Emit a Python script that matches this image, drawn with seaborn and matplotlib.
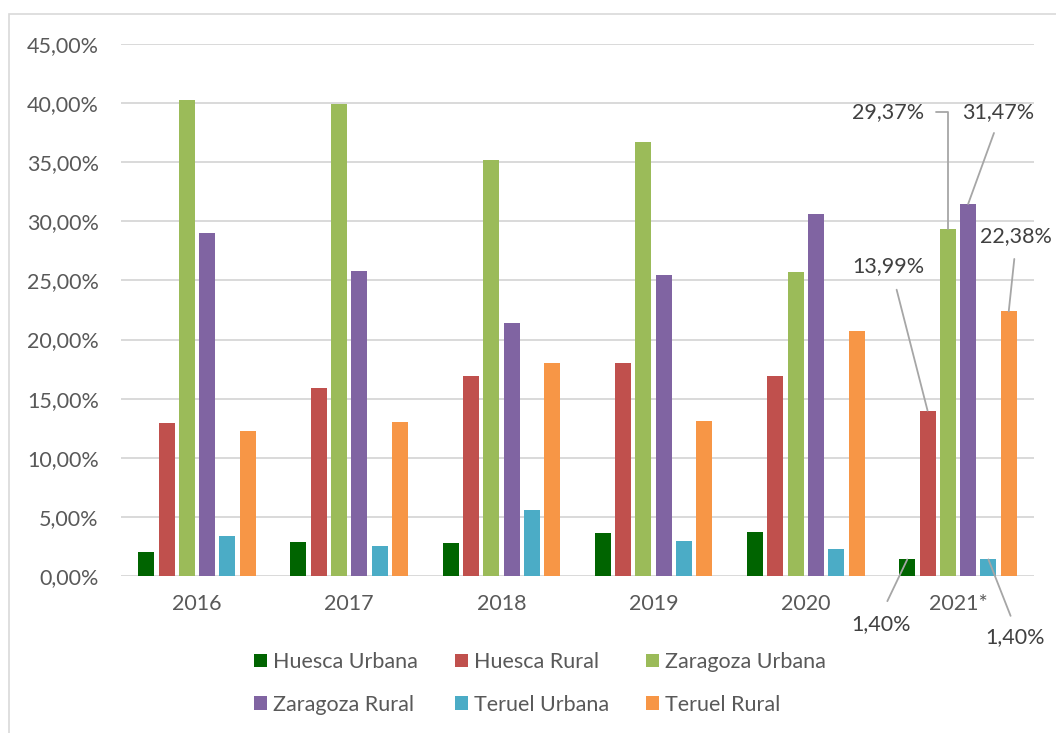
import numpy as np
import pandas as pd
import matplotlib
matplotlib.use('Agg')
import matplotlib.pyplot as plt
from matplotlib.patches import Rectangle, Patch
from matplotlib.ticker import FuncFormatter, MultipleLocator
import seaborn as sns

# data (percent)
years = ['2016', '2017', '2018', '2019', '2020', '2021*']
groups = ['Huesca Urbana', 'Huesca Rural', 'Zaragoza Urbana',
          'Zaragoza Rural', 'Teruel Urbana', 'Teruel Rural']
huesca_urbana = [2.05, 2.9, 2.8, 3.6, 3.75, 1.40]
huesca_rural = [12.9, 15.9, 16.95, 18.0, 16.9, 13.99]
zaragoza_urbana = [40.3, 39.9, 35.2, 36.7, 25.7, 29.37]
zaragoza_rural = [29.0, 25.8, 21.4, 25.5, 30.6, 31.47]
teruel_urbana = [3.4, 2.5, 5.55, 2.95, 2.25, 1.40]
teruel_rural = [12.3, 13.0, 18.0, 13.15, 20.7, 22.38]
colors = ['#006400', '#c0504d', '#9bbb59', '#8064a2', '#4bacc6', '#f79646']

series = [huesca_urbana, huesca_rural, zaragoza_urbana,
          zaragoza_rural, teruel_urbana, teruel_rural]
df = pd.DataFrame([(y, g, v) for g, vals in zip(groups, series)
                   for y, v in zip(years, vals)],
                  columns=['year', 'group', 'value'])

# label placement for the last year: text position (x, y) and where the leader starts
label_pos = {
    'Huesca Urbana': ((4.494, -4.1), (0.5, 1.0), 8),
    'Huesca Rural': ((4.54, 26.25), (0.57, 0.0), 8),
    'Zaragoza Urbana': ((4.54, 39.26), (1.0, 0.5), 6),
    'Zaragoza Rural': ((5.263, 39.26), (0.5, 0.0), 6),
    'Teruel Urbana': ((5.374, -5.15), (0.5, 1.0), 6),
    'Teruel Rural': ((5.379, 28.76), (0.5, 0.0), 7),
}

sns.set_theme(style='white')
plt.rcParams['font.family'] = ['Lato', 'DejaVu Sans']
FS = 15.5

W, H = 1056, 733
fig = plt.figure(figsize=(W / 100, H / 100), dpi=100)
fig.patch.set_facecolor('white')
ax = fig.add_axes([120.9 / W, 157 / H, 913.2 / W, 532 / H])

sns.barplot(data=df, x='year', y='value', hue='group', order=years,
            hue_order=groups, palette=colors, width=0.8, gap=0.21,
            linewidth=0, saturation=1, ax=ax, legend=True)

ax.set_ylim(0, 45)
ax.set_xlim(-0.5, 5.5)
ax.yaxis.set_major_locator(MultipleLocator(5))
ax.yaxis.set_major_formatter(FuncFormatter(lambda v, p: f'{v:.2f}%'.replace('.', ',')))
ax.grid(axis='y', color='#d9d9d9', lw=1.4)
ax.set_axisbelow(True)
for s in ax.spines.values():
    s.set_visible(False)
ax.tick_params(axis='both', length=0, labelsize=FS, colors='#595959')
ax.tick_params(axis='y', pad=16)
ax.tick_params(axis='x', pad=13)
ax.set_xlabel('')
ax.set_ylabel('')

# value labels for 2021*
n = len(groups)
last = len(years) - 1
for j, (g, vals) in enumerate(zip(groups, series)):
    bx = last - 0.4 + (j + 0.5) * 0.8 / n
    (tx, ty), rel, shr = label_pos[g]
    conn = 'angle,angleA=0,angleB=90,rad=0' if g == 'Zaragoza Urbana' else 'arc3'
    ax.annotate(f'{vals[last]:.2f}%'.replace('.', ','), xy=(bx, vals[last]),
                xytext=(tx, ty), textcoords='data', ha='center', va='center',
                fontsize=FS, color='#404040', annotation_clip=False,
                arrowprops=dict(arrowstyle='-', color='#a6a6a6', lw=1.3,
                                shrinkA=shr, shrinkB=0, relpos=rel,
                                connectionstyle=conn))

# legend, row-major order
handles = [Patch(facecolor=c, edgecolor='none') for c in colors]
order = [0, 3, 1, 4, 2, 5]
ax.get_legend().remove()
fig.legend([handles[i] for i in order], [groups[i] for i in order],
           ncol=3, loc='center', bbox_to_anchor=(540 / W, 1 - 683.5 / H),
           frameon=False, fontsize=FS, labelcolor='#595959',
           handlelength=0.6, handleheight=0.6, handletextpad=0.3,
           columnspacing=1.7, labelspacing=1.05)

# chart-area border
fig.patches.append(Rectangle((9 / W, -0.1), 1.2, 1.1 - 14 / H,
                             transform=fig.transFigure, fill=False,
                             edgecolor='#d9d9d9', lw=1.2))

fig.savefig('out.png', dpi=100, facecolor='white')
